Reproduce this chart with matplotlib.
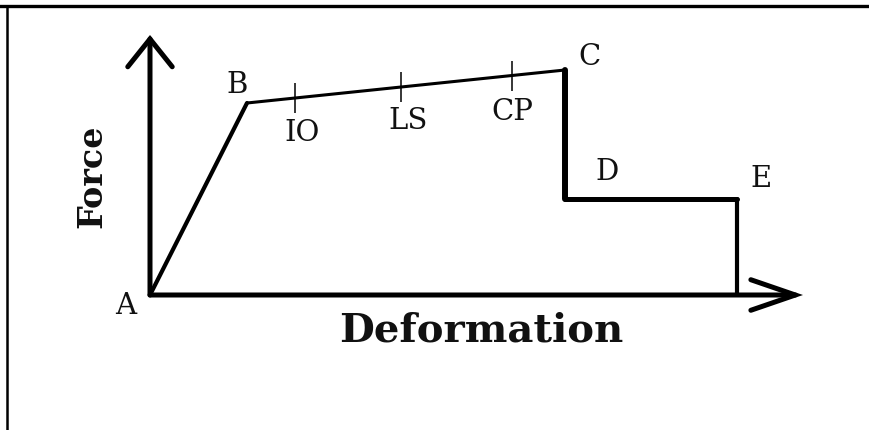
import matplotlib.pyplot as plt
from matplotlib.lines import Line2D
import numpy as np

# Backbone curve of a plastic hinge (generalized force-deformation)
points = ['A', 'B', 'C', 'D', 'E']
deformation = [0.0, 0.97, 4.15, 4.15, 5.87, 5.87]
force = [0.0, 1.92, 2.25, 0.96, 0.96, 0.0]

# Performance levels marked along the B-C branch
levels = ['IO', 'LS', 'CP']
level_def = [1.45, 2.51, 3.62]

x_axis_end = 6.53
y_axis_end = 2.60

fig = plt.figure(figsize=(8.7, 4.3), dpi=100)
ax = fig.add_axes([0, 0, 1, 1])
ax.set_xlim(-1.5, 7.2)
ax.set_ylim(-1.35, 2.95)
ax.axis('off')

# axes with open arrow heads
ax.annotate('', xy=(0, y_axis_end), xytext=(0, 0),
            arrowprops=dict(arrowstyle='->, head_length=20, head_width=16',
                            mutation_scale=1, lw=3.6, color='black',
                            shrinkA=0, shrinkB=0, joinstyle='miter'))
ax.annotate('', xy=(x_axis_end, 0), xytext=(0, 0),
            arrowprops=dict(arrowstyle='->, head_length=32, head_width=11',
                            mutation_scale=1, lw=3.6, color='black',
                            shrinkA=0, shrinkB=0, joinstyle='miter'))

# backbone segments, each with its own weight
seg_lw = [3.0, 2.2, 4.3, 3.6, 3.0]
for i, w in enumerate(seg_lw):
    ax.plot(deformation[i:i + 2], force[i:i + 2], color='black', lw=w,
            solid_capstyle='round', solid_joinstyle='round')

# level ticks sit on the B-C line
level_force = np.interp(level_def, deformation[1:3], force[1:3])
ax.vlines(level_def, level_force - 0.15, level_force + 0.15, color='black', lw=1.1)

serif = 'DejaVu Serif'
lab_off = [(-24, -11), (-10, 18), (24, 13), (42, 27), (24, 20)]
for name, x, y, off in zip(points, deformation, force, lab_off):
    ax.annotate(name, (x, y), xytext=off, textcoords='offset pixels',
                ha='center', va='center', fontsize=21, family=serif, color='#111111')

lvl_off = [(7, -35), (7, -34), (0, -36)]
for name, x, y, off in zip(levels, level_def, level_force, lvl_off):
    ax.annotate(name, (x, y), xytext=off, textcoords='offset pixels',
                ha='center', va='center', fontsize=21, family=serif, color='#111111')

fig.text(481 / 870, 1 - 331 / 430, 'Deformation', ha='center', va='center',
         fontsize=29, fontweight='bold', family=serif, color='#111111')
fig.text(92 / 870, 1 - 176 / 430, 'Force', ha='center', va='center', rotation=90,
         fontsize=24, fontweight='bold', family=serif, color='#111111')

# outer frame: top and left edges only
fig.add_artist(Line2D([0, 1], [1 - 5.5 / 430] * 2, transform=fig.transFigure,
                      color='black', lw=2.4))
fig.add_artist(Line2D([7 / 870] * 2, [0, 1 - 5.5 / 430], transform=fig.transFigure,
                      color='black', lw=1.8))

fig.savefig('out.png', dpi=100)
